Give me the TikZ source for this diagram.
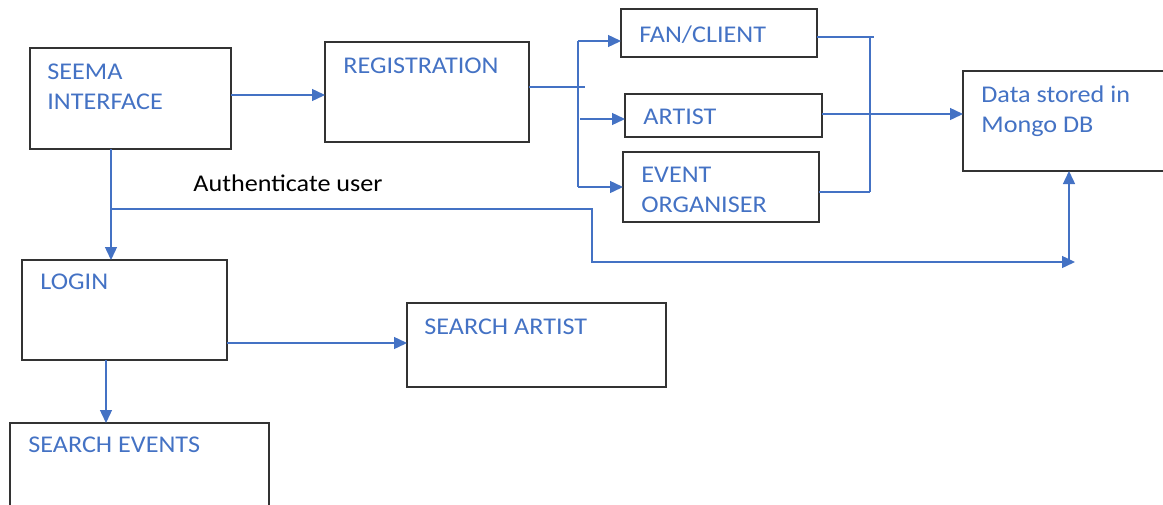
\documentclass[tikz,border=0pt]{standalone}
\usepackage{fontspec}
\setmainfont{Carlito}[FakeStretch=1.09]
\usetikzlibrary{arrows.meta}
\definecolor{flowblue}{HTML}{4472C4}
\tikzset{
  box/.style={draw=black!80, line width=0.9pt, anchor=north west, inner sep=0pt, outer sep=0pt},
  boxtext/.style={anchor=north west, inner sep=0pt, text=flowblue, align=left, font=\fontsize{12}{15}\selectfont},
  link/.style={draw=flowblue, line width=0.7pt},
  arr/.style={link, -{Triangle[length=6.5pt,width=6pt]}}
}

\begin{document}
\begin{tikzpicture}[x=0.5pt,y=-0.5pt]
\useasboundingbox (0,0) rectangle (1163,504);
\node[box, minimum width=100.5pt, minimum height=50.5pt] (seema) at (30,48) {};
\node[box, minimum width=102pt, minimum height=50pt] (reg) at (325,42) {};
\node[box, minimum width=98pt, minimum height=24pt] (fan) at (621,9) {};
\node[box, minimum width=98.5pt, minimum height=21.5pt] (artist) at (625,94) {};
\node[box, minimum width=98pt, minimum height=35pt] (event) at (623,152) {};
\node[box, minimum width=105pt, minimum height=50pt] (data) at (963,71) {};
\node[box, minimum width=102.5pt, minimum height=50pt] (login) at (22,260) {};
\node[box, minimum width=129.5pt, minimum height=42pt] (sartist) at (407,303) {};
\node[box, minimum width=129.5pt, minimum height=45pt] (sevents) at (10,423) {};
\node[boxtext] (seematxt) at (47,64) {SEEMA\\INTERFACE};
\node[boxtext] (regtxt) at (343,58) {REGISTRATION};
\node[boxtext] (fantxt) at (639,25) {FAN/CLIENT};
\node[boxtext] (artisttxt) at (643,109) {ARTIST};
\node[boxtext] (eventtxt) at (641,167) {EVENT\\ORGANISER};
\node[boxtext] (datatxt) at (981,85) {Data stored in\\Mongo DB};
\node[boxtext] (logintxt) at (40,274) {LOGIN};
\node[boxtext] (sartisttxt) at (424,319) {SEARCH ARTIST};
\node[boxtext] (seventstxt) at (28,437) {SEARCH EVENTS};
\node[boxtext, text=black] (authtxt) at (193,174) {Authenticate user};
\coordinate (rtop) at (578,41);
\coordinate (rbot) at (578,187);
\coordinate (ltop) at (870,37);
\coordinate (lbot) at (870,192);
\coordinate (auth) at (111,209);
\coordinate (dbin) at (1075,262);
\draw[arr] (seema.east |- 0,95) -- (reg.west |- 0,95);
\draw[link] (reg.east |- 0,87) -- (585,87);
\draw[link] (rtop) -- (rbot);
\draw[arr] (rtop) -- (fan.west |- rtop);
\draw[arr] (580,119) -- (artist.west |- 0,119);
\draw[arr] (rbot) -- (event.west |- rbot);
\draw[link] (fan.east |- ltop) -- (ltop) -- ++(4,0);
\draw[link] (ltop) -- (lbot);
\draw[link] (event.east |- lbot) -- (lbot);
\draw[arr] (artist.east |- 0,114) -- (data.west |- 0,114);
\draw[arr] (111,0 |- seema.south) -- (111,0 |- login.north);
\draw[arr] (auth) -- (592,209) |- (dbin);
\draw[arr] (1069,262) -- (1069,0 |- data.south);
\draw[arr] (login.east |- 0,343) -- (sartist.west |- 0,343);
\draw[arr] (106,0 |- login.south) -- (106,0 |- sevents.north);
\end{tikzpicture}
\end{document}
